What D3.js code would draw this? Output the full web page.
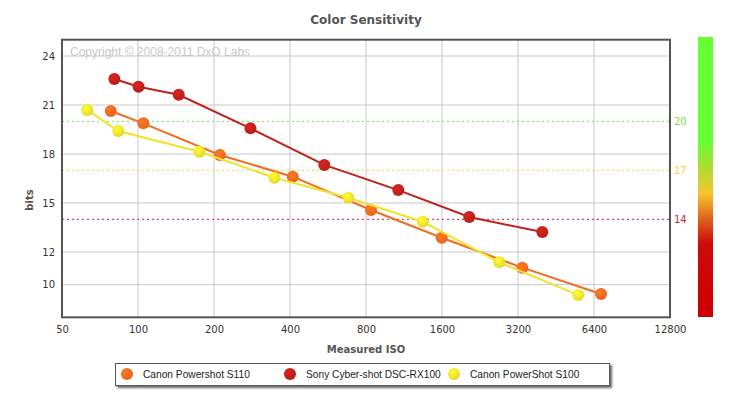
<!DOCTYPE html>
<html><head><meta charset="utf-8">
<script src="https://cdn.jsdelivr.net/npm/d3@7"></script>
<style>
html,body{margin:0;padding:0;background:#fff;}
svg{display:block;font-family:"DejaVu Sans",Verdana,sans-serif;}
</style></head>
<body><svg id="c" width="733" height="402"></svg>
<script>
const seriesNames = ["Canon Powershot S110", "Sony Cyber-shot DSC-RX100", "Canon PowerShot S100"];
const seriesColors = ["#f26b21", "#c0201b", "#f2e22c"];
const isoS110 = [78, 105, 211, 410, 837, 1596, 3329, 6822];
const bitsS110 = [20.63, 19.88, 17.94, 16.61, 14.57, 12.87, 11.04, 9.43];
const isoRX100 = [80.6, 100.5, 145, 279, 547, 1074, 2052, 3995];
const bitsRX100 = [22.59, 22.12, 21.63, 19.57, 17.33, 15.79, 14.14, 13.22];
const isoS100 = [63, 83.6, 175, 347, 681, 1342, 2698, 5546];
const bitsS100 = [20.69, 19.41, 18.14, 16.55, 15.32, 13.85, 11.37, 9.36];
const xTicks = [50, 100, 200, 400, 800, 1600, 3200, 6400, 12800];
const yTicks = [10, 12, 15, 18, 21, 24];
const refValues = [20, 17, 14];
const refColors = ["#7bdc4a", "#f0d23c", "#cc1f35"];

const svg = d3.select("#c");
const x = d3.scaleLog().base(2).domain([50, 12800]).range([62, 670]);
const y = d3.scaleLinear().domain([8, 25]).range([317.3, 39.7]);

const defs = svg.append("defs");
const cb = defs.append("linearGradient").attr("id","cbar").attr("x1",0).attr("y1",0).attr("x2",0).attr("y2",1);
[[0,"#66ff33"],[0.37,"#66ff33"],[0.46,"#a8dd33"],[0.56,"#f5c52c"],[0.65,"#e0601f"],[0.74,"#cc0a0a"],[1,"#cc0000"]]
  .forEach(s => cb.append("stop").attr("offset", s[0]).attr("stop-color", s[1]));
seriesColors.forEach((c, i) => {
  const g = defs.append("radialGradient").attr("id","mg"+i).attr("cx","40%").attr("cy","35%").attr("r","65%");
  g.append("stop").attr("offset",0).attr("stop-color", d3.color(c).brighter(0.35));
  g.append("stop").attr("offset",1).attr("stop-color", d3.color(c).darker(0.15));
});
const sh = defs.append("filter").attr("id","shadow").attr("x","-5%").attr("y","-30%").attr("width","115%").attr("height","180%");
sh.append("feGaussianBlur").attr("in","SourceAlpha").attr("stdDeviation",1.2).attr("result","b");
sh.append("feOffset").attr("in","b").attr("dx",2).attr("dy",2).attr("result","o");
sh.append("feComponentTransfer").attr("in","o").attr("result","o2").append("feFuncA").attr("type","linear").attr("slope",0.6);
const mg = sh.append("feMerge"); mg.append("feMergeNode").attr("in","o2"); mg.append("feMergeNode").attr("in","SourceGraphic");

const X0 = x.range()[0], X1 = x.range()[1], Y0 = y(25), Y1 = y(8);

svg.append("text").attr("x", 366).attr("y", 24).attr("text-anchor","middle")
  .attr("font-size", 12).attr("font-weight","bold").attr("fill","#555").text("Color Sensitivity");

svg.append("text").attr("x", 70).attr("y", 56).attr("font-family","'Liberation Sans',Arial,sans-serif")
  .attr("font-size", 12).attr("fill","#c8c8c8").text("Copyright © 2008-2011 DxO Labs");

svg.append("g").selectAll("line").data(xTicks.slice(1, -1)).join("line")
  .attr("x1", d => x(d)).attr("x2", d => x(d)).attr("y1", Y0).attr("y2", Y1)
  .attr("stroke","#c8c8c8").attr("stroke-width",1);
svg.append("g").selectAll("line").data(yTicks).join("line")
  .attr("x1", X0).attr("x2", X1).attr("y1", d => y(d)).attr("y2", d => y(d))
  .attr("stroke","#c8c8c8").attr("stroke-width",1);

svg.append("g").selectAll("line").data(refValues).join("line")
  .attr("x1", X0).attr("x2", X1).attr("y1", d => y(d)).attr("y2", d => y(d))
  .attr("stroke", (d,i) => refColors[i]).attr("stroke-width",1).attr("stroke-dasharray","2,3");
svg.append("g").selectAll("text").data(refValues).join("text")
  .attr("x", 674).attr("y", d => y(d) + 4).attr("font-size", 10)
  .attr("fill", (d,i) => refColors[i]).text(d => d);

svg.append("rect").attr("x", X0).attr("y", Y0).attr("width", X1 - X0).attr("height", Y1 - Y0)
  .attr("fill","none").attr("stroke","#555").attr("stroke-width",2);

const xAxis = svg.append("g").attr("transform", `translate(0,${Y1})`)
  .call(d3.axisBottom(x).tickValues(xTicks).tickFormat(d3.format("d")).tickSize(0).tickPadding(9));
const yAxis = svg.append("g").attr("transform", `translate(${X0},0)`)
  .call(d3.axisLeft(y).tickValues(yTicks).tickSize(0).tickPadding(7));
[xAxis, yAxis].forEach(a => {
  a.select(".domain").remove();
  a.selectAll("text").attr("font-family","'DejaVu Sans',Verdana,sans-serif").attr("font-size",10).attr("fill","#333");
});

svg.append("text").attr("x", 366).attr("y", 353).attr("text-anchor","middle")
  .attr("font-size", 10).attr("font-weight","bold").attr("fill","#555").text("Measured ISO");
svg.append("text").attr("transform","translate(33,200) rotate(-90)").attr("text-anchor","middle")
  .attr("font-size", 10).attr("font-weight","bold").attr("fill","#555").text("bits");

svg.append("rect").attr("x", 698).attr("y", 37).attr("width", 15).attr("height", 280).attr("fill","url(#cbar)");

const series = [
  {iso: isoS110, bits: bitsS110},
  {iso: isoRX100, bits: bitsRX100},
  {iso: isoS100, bits: bitsS100}
];
const line = d3.line().x(d => x(d[0])).y(d => y(d[1]));
[1, 0, 2].forEach(i => {
  const s = series[i];
  const pts = s.iso.map((v, k) => [v, s.bits[k]]);
  const g = svg.append("g");
  g.append("path").datum(pts).attr("d", line).attr("fill","none")
    .attr("stroke", seriesColors[i]).attr("stroke-width", 2);
  g.selectAll("circle").data(pts).join("circle")
    .attr("cx", d => x(d[0])).attr("cy", d => y(d[1])).attr("r", 6)
    .attr("fill", `url(#mg${i})`);
});

const lg = svg.append("g");
lg.append("rect").attr("x", 115.5).attr("y", 363.5).attr("width", 494).attr("height", 22)
  .attr("fill","#fff").attr("stroke","#555").attr("stroke-width",1).attr("filter","url(#shadow)");
const legX = [127, 290, 454];
seriesNames.forEach((n, i) => {
  lg.append("circle").attr("cx", legX[i]).attr("cy", 374).attr("r", 6).attr("fill", `url(#mg${i})`);
  lg.append("text").attr("x", legX[i] + 16).attr("y", 377.5).attr("font-family","'Liberation Sans',Arial,sans-serif")
    .attr("font-size", 10.2).attr("fill","#222").text(n);
});
</script></body></html>
